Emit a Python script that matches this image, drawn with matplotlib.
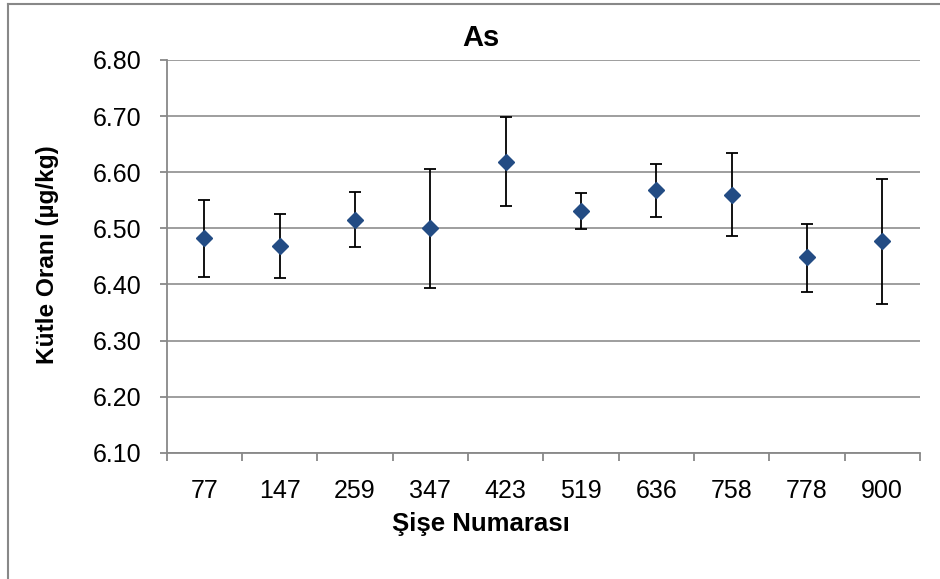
import numpy as np
import matplotlib
matplotlib.use("Agg")
import matplotlib.pyplot as plt
from matplotlib.lines import Line2D

plt.rcParams['font.family'] = ['Liberation Sans', 'DejaVu Sans']

# veriler
bottles = ['77', '147', '259', '347', '423', '519', '636', '758', '778', '900']
ratio = [6.482, 6.468, 6.515, 6.500, 6.618, 6.530, 6.568, 6.560, 6.448, 6.477]
err_low = [0.068, 0.057, 0.048, 0.106, 0.079, 0.032, 0.047, 0.074, 0.061, 0.112]
err_high = [0.068, 0.058, 0.050, 0.106, 0.080, 0.033, 0.047, 0.074, 0.060, 0.111]
yticks = [6.10, 6.20, 6.30, 6.40, 6.50, 6.60, 6.70, 6.80]

fig = plt.figure(figsize=(9.4, 5.79), dpi=100)
ax = fig.add_axes([0.1773, 0.2181, 0.8014, 0.6783])

x = np.arange(len(bottles))
ax.errorbar(x, ratio, yerr=[err_low, err_high], fmt='D', color='#234C84',
            markersize=8.5, ecolor='black', elinewidth=1.3, capsize=4.5,
            capthick=1.3, zorder=3)

ax.set_ylim(6.10, 6.80)
ax.set_xlim(-0.5, len(bottles) - 0.5)
ax.set_yticks(yticks)
ax.set_yticklabels(['%.2f' % v for v in yticks])
ax.yaxis.grid(True, color='#969696', linewidth=1.3)
ax.set_axisbelow(True)

ax.set_xticks(x)
ax.set_xticklabels(bottles)
ax.set_xticks(np.arange(-0.5, len(bottles)), minor=True)
ax.tick_params(axis='x', which='major', length=0, pad=19, labelsize=18)
ax.tick_params(axis='x', which='minor', length=6, width=1.3, color='#888888')
ax.tick_params(axis='y', length=5, width=1.3, color='#888888', pad=13, labelsize=18)

for s in ['top', 'right']:
    ax.spines[s].set_visible(False)
for s in ['left', 'bottom']:
    ax.spines[s].set_color('#888888')
    ax.spines[s].set_linewidth(1.3)

fig.text(0.512, 0.935, 'As', ha='center', va='center', fontsize=21, fontweight='bold')
fig.text(0.512, 0.095, 'Şişe Numarası', ha='center', va='center', fontsize=18.5, fontweight='bold')
fig.text(0.051, 0.56, 'Kütle Oranı (µg/kg)', ha='center', va='center', rotation=90,
         fontsize=17.6, fontweight='bold')

# dış çerçeve
fig.add_artist(Line2D([0.009, 0.009], [0, 0.993], transform=fig.transFigure, color='#888888', lw=1.5))
fig.add_artist(Line2D([0.009, 1.0], [0.993, 0.993], transform=fig.transFigure, color='#888888', lw=1.5))

fig.savefig('out.png', dpi=100)
